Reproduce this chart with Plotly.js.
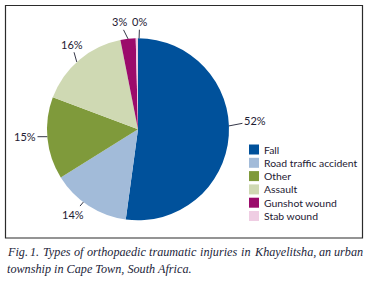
<!DOCTYPE html>
<html>
<head>
<meta charset="utf-8">
<script src="https://cdn.plot.ly/plotly-3.0.1.min.js"></script>
<style>html,body{margin:0;padding:0;background:#fff;}#chart{width:375px;height:289px;}</style>
</head>
<body>
<div id="chart"></div>
<script>
// ---- data ----
var categories = ["Fall", "Road traffic accident", "Other", "Assault", "Gunshot wound", "Stab wound"];
var values = [52.2, 14.0, 14.6, 16.2, 2.7, 0.4];
var percentLabels = ["52%", "14%", "15%", "16%", "3%", "0%"];
var captionLines = [
  "Fig. 1. Types of orthopaedic traumatic injuries in Khayelitsha, an urban",
  "township in Cape Town, South Africa."
];

// ---- style ----
var colors = ["#00519b", "#a2bbd9", "#7f9a3b", "#cfd9b3", "#9b0b6b", "#efcde3"];
var W = 375, H = 289;
var cx = 138, cy = 129.3, R = 91;
// per-label leader tweaks: angle nudge (deg) of line head on rim, label centre offset (px) from head
var leaderNudge = [-6, 4, 1, -2, 0, 1.4];
var labelOffset = [[26, -5], [-10, 12], [-22.3, 0], [-5, -17.7], [-8.5, -17], [0.6, -16.6]];
var labelFont = {family: "Lato, 'Noto Sans', sans-serif", size: 11, color: "#1e2033"};
var legendFont = {family: "Lato, 'Noto Sans', sans-serif", size: 10.4, color: "#1e2033"};
var capFamily = "'Liberation Serif', 'DejaVu Serif', serif";
var capSize = 12.2;

function px2x(p) { return p / W; }
function py2y(p) { return 1 - p / H; }

var trace = {
  type: "pie",
  labels: categories,
  values: values,
  sort: false,
  direction: "clockwise",
  rotation: 0,
  textinfo: "none",
  hoverinfo: "label+percent",
  showlegend: false,
  marker: {colors: colors, line: {width: 0}},
  domain: {
    x: [px2x(cx - R), px2x(cx + R)],
    y: [py2y(cy + R), py2y(cy - R)]
  }
};

var total = values.reduce(function (a, b) { return a + b; }, 0);
var annotations = [];
var shapes = [];
var cum = 0;
for (var i = 0; i < values.length; i++) {
  var mid = (cum + values[i] / 2) / total;
  cum += values[i];
  var ang = (mid * 360 + leaderNudge[i]) * Math.PI / 180;
  var hx = cx + R * Math.sin(ang);
  var hy = cy - R * Math.cos(ang);
  annotations.push({
    xref: "paper", yref: "paper",
    x: px2x(hx), y: py2y(hy),
    ax: labelOffset[i][0], ay: labelOffset[i][1],
    text: percentLabels[i],
    showarrow: true, arrowhead: 0, arrowwidth: 0.9, arrowcolor: "#1e2033", standoff: 0,
    font: labelFont
  });
}

// legend (manual, to match swatch/text spacing)
var legX = 249, legY0 = 149.5, legDy = 13.3, sw = 10;
for (var j = 0; j < categories.length; j++) {
  var yc = legY0 + j * legDy;
  shapes.push({
    type: "rect", xref: "paper", yref: "paper",
    x0: px2x(legX), x1: px2x(legX + sw),
    y0: py2y(yc + sw / 2), y1: py2y(yc - sw / 2),
    fillcolor: colors[j], line: {width: 0}
  });
  annotations.push({
    xref: "paper", yref: "paper",
    x: px2x(legX + sw + 3), y: py2y(yc),
    xanchor: "left", yanchor: "middle",
    text: categories[j], showarrow: false,
    font: legendFont
  });
}

// frame
shapes.push({
  type: "rect", xref: "paper", yref: "paper",
  x0: px2x(5.5), x1: px2x(362.5), y0: py2y(238), y1: py2y(5.5),
  line: {color: "#2b2b2b", width: 1.2}, fillcolor: "rgba(0,0,0,0)"
});

// caption: first line justified across the frame width, last line left-aligned
var capY = [251.7, 269.3];
var capLeft = 5.5, capRight = 362.5;
var capFontObj = {family: capFamily, size: capSize, color: "#23253a", style: "italic"};
var ctx = document.createElement("canvas").getContext("2d");
ctx.font = "italic " + capSize + "px " + capFamily;
for (var k = 0; k < captionLines.length; k++) {
  var justify = k < captionLines.length - 1;
  if (justify) {
    var words = captionLines[k].split(" ");
    var widths = words.map(function (w) { return ctx.measureText(w).width; });
    var sumW = widths.reduce(function (a, b) { return a + b; }, 0);
    var gap = (capRight - capLeft - sumW) / (words.length - 1);
    var xpos = capLeft;
    for (var m = 0; m < words.length; m++) {
      annotations.push({
        xref: "paper", yref: "paper",
        x: px2x(xpos), y: py2y(capY[k]),
        xanchor: "left", yanchor: "middle", borderpad: 0,
        text: words[m], showarrow: false, font: capFontObj
      });
      xpos += widths[m] + gap;
    }
  } else {
    annotations.push({
      xref: "paper", yref: "paper",
      x: px2x(capLeft), y: py2y(capY[k]),
      xanchor: "left", yanchor: "middle", borderpad: 0,
      text: captionLines[k], showarrow: false, font: capFontObj
    });
  }
}

var layout = {
  width: W, height: H,
  margin: {l: 0, r: 0, t: 0, b: 0},
  paper_bgcolor: "#ffffff",
  showlegend: false,
  annotations: annotations,
  shapes: shapes
};

Plotly.newPlot("chart", [trace], layout, {displayModeBar: false, staticPlot: true});
</script>
</body>
</html>
